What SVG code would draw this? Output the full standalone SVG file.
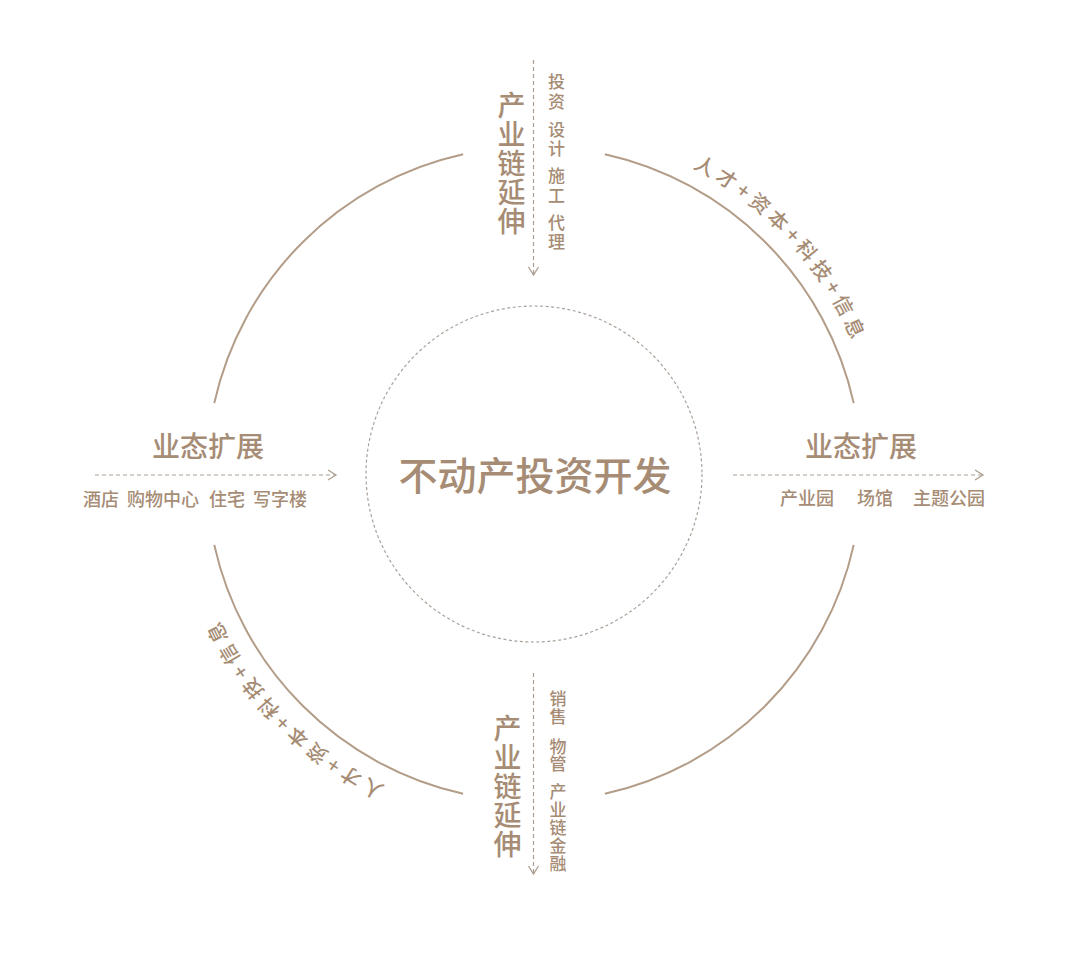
<svg xmlns="http://www.w3.org/2000/svg" width="1080" height="956" viewBox="0 0 1080 956">
<style>
  text { font-family: "Noto Sans CJK SC", "Noto Sans", sans-serif; fill: #a68c75; }
  .title { font-size: 28px; font-weight: 500; text-anchor: middle; }
  .sub { font-size: 18px; font-weight: 500; }
  .vbig { font-size: 28px; font-weight: 500; text-anchor: middle; }
  .vsmall { font-size: 17px; font-weight: 500; text-anchor: middle; }
  .arc { fill: none; stroke: #b39d88; stroke-width: 2; }
  .dash { fill: none; stroke: #ab9d90; stroke-width: 1.2; stroke-dasharray: 4 3; }
  .arctext { font-size: 20px; font-weight: 500; letter-spacing: 4.5px; }
</style>
<defs>
  <marker id="chev" markerUnits="userSpaceOnUse" markerWidth="14" markerHeight="14" viewBox="-10 -7 12 14" refX="0" refY="0" orient="auto">
    <path d="M-8,-5 L0,0 L-8,5" fill="none" stroke="#ab9d90" stroke-width="1.3"/>
  </marker>
  <path id="tpTR" d="M692.77,167.70 A345,345 0 0,1 873.76,414.09"/>
  <path id="tpBL" d="M385.30,786.65 A347,347 0 0,1 192.27,534.26"/>
</defs>
<rect width="1080" height="956" fill="#ffffff"/>

<g id="outer-ring">
  <path class="arc" d="M604.88,154.26 A327.5,327.5 0 0,1 853.74,403.12"/>
  <path class="arc" d="M853.74,544.88 A327.5,327.5 0 0,1 604.88,793.74"/>
  <path class="arc" d="M463.12,793.74 A327.5,327.5 0 0,1 214.26,544.88"/>
  <path class="arc" d="M214.26,403.12 A327.5,327.5 0 0,1 463.12,154.26"/>
</g>

<g id="core">
  <circle cx="534" cy="474" r="168" fill="none" stroke="#aaa19a" stroke-width="1.2" stroke-dasharray="3 2.5"/>
  <text x="535" y="490" font-size="39" font-weight="500" text-anchor="middle">不动产投资开发</text>
</g>

<g id="connectors">
  <line class="dash" x1="533.5" y1="60" x2="533.5" y2="275" marker-end="url(#chev)"/>
  <line class="dash" x1="533.5" y1="673" x2="533.5" y2="874" marker-end="url(#chev)"/>
  <line class="dash" x1="95" y1="475" x2="336" y2="475" marker-end="url(#chev)"/>
  <line class="dash" x1="733" y1="475" x2="983" y2="475" marker-end="url(#chev)"/>
</g>

<g id="top-chain">
  <text class="vbig"><tspan x="511.5" y="116">产</tspan><tspan x="511.5" y="145">业</tspan><tspan x="511.5" y="174">链</tspan><tspan x="511.5" y="203">延</tspan><tspan x="511.5" y="232">伸</tspan></text>
  <text class="vsmall"><tspan x="556.5" y="88">投</tspan><tspan x="556.5" y="107.5">资</tspan><tspan x="556.5" y="135.5">设</tspan><tspan x="556.5" y="155">计</tspan><tspan x="556.5" y="182">施</tspan><tspan x="556.5" y="201.5">工</tspan><tspan x="556.5" y="228.5">代</tspan><tspan x="556.5" y="248">理</tspan></text>
</g>

<g id="bottom-chain">
  <text class="vbig"><tspan x="507.5" y="739">产</tspan><tspan x="507.5" y="768">业</tspan><tspan x="507.5" y="797">链</tspan><tspan x="507.5" y="826">延</tspan><tspan x="507.5" y="855">伸</tspan></text>
  <text class="vsmall"><tspan x="558" y="705">销</tspan><tspan x="558" y="723">售</tspan><tspan x="558" y="753">物</tspan><tspan x="558" y="770">管</tspan><tspan x="558" y="798">产</tspan><tspan x="558" y="816">业</tspan><tspan x="558" y="834">链</tspan><tspan x="558" y="852">金</tspan><tspan x="558" y="870">融</tspan></text>
</g>

<g id="left-expansion">
  <text class="title" x="208" y="456.5">业态扩展</text>
  <text class="sub" y="506"><tspan x="83">酒店</tspan><tspan x="127">购物中心</tspan><tspan x="209">住宅</tspan><tspan x="253">写字楼</tspan></text>
</g>

<g id="right-expansion">
  <text class="title" x="861" y="456.5">业态扩展</text>
  <text class="sub" y="505"><tspan x="780">产业园</tspan><tspan x="857">场馆</tspan><tspan x="913">主题公园</tspan></text>
</g>

<g id="arc-label-tr">
  <text class="arctext"><textPath href="#tpTR">人才+资本+科技+信息</textPath></text>
</g>
<g id="arc-label-bl">
  <text class="arctext"><textPath href="#tpBL">人才+资本+科技+信息</textPath></text>
</g>
</svg>
